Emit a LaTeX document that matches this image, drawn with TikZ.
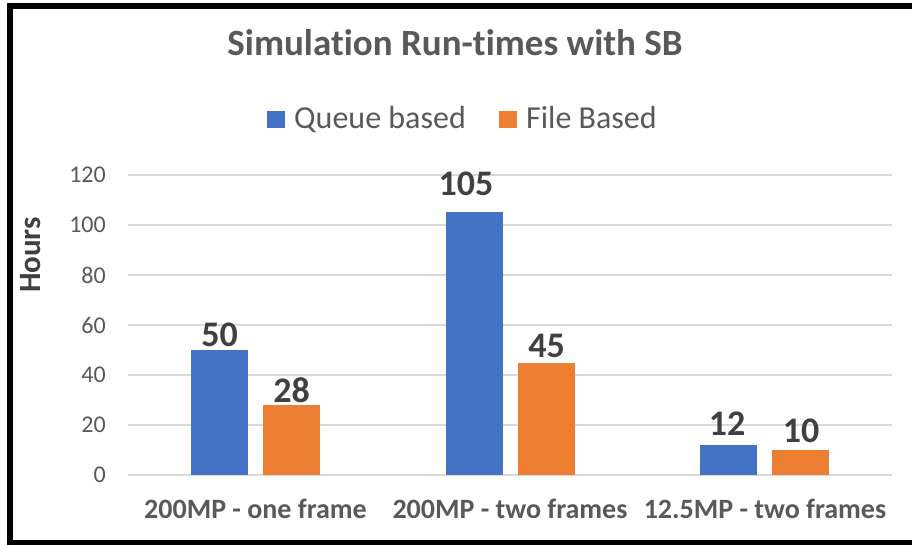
\documentclass[tikz,border=0pt]{standalone}
\usepackage{fontspec}
\setmainfont{Carlito}[RawFeature={-liga;-clig;-calt;-dlig}]
\definecolor{qblue}{HTML}{4472C4}
\definecolor{forange}{HTML}{ED7D31}
\definecolor{gridc}{HTML}{D9D9D9}
\definecolor{txtc}{HTML}{595959}
\definecolor{lblc}{HTML}{404040}
\begin{document}
\begin{tikzpicture}[x=1pt,y=-1pt,
  gridline/.style={draw=gridc,line width=1.5pt},
  ticklbl/.style={anchor=east,text=txtc,inner sep=0pt,font=\fontsize{24}{27}\selectfont},
  catlbl/.style={anchor=base,text=txtc,inner sep=0pt,font=\fontsize{28}{32}\selectfont\bfseries},
  vallbl/.style={anchor=base,text=lblc,inner sep=0pt,font=\fontsize{36}{40}\selectfont\bfseries},
  legtxt/.style={anchor=base west,text=txtc,inner sep=0pt,font=\fontsize{32}{36}\selectfont},
  bluebar/.style={fill=qblue},
  orangebar/.style={fill=forange}]
\useasboundingbox (0,0) rectangle (912,545);
\fill[white] (0,0) rectangle (912,545);
% frame
\draw[black,line width=6pt] (930,6) -- (9.5,6) -- (9.5,542.5) -- (930,542.5);
% title
\node[anchor=base,text=txtc,inner sep=0pt,font=\fontsize{37}{41}\selectfont\bfseries] (title) at (455,56) {Simulation Run-times with SB};
% legend
\fill[qblue] (267,111) rectangle (285,128);
\node[legtxt] (legq) at (294,129) {Queue based};
\fill[forange] (499,111) rectangle (517,128);
\node[legtxt] (legf) at (526,129) {File Based};
% grid and ticks
\foreach \v in {0,20,...,120}{
  \draw[gridline] (128,{475-2.5*\v}) -- (892,{475-2.5*\v});
  \node[ticklbl] (tick\v) at (106,{475-2.5*\v}) {\v};
}
% axis title
\node[rotate=90,text=lblc,inner sep=0pt,font=\fontsize{31}{35}\selectfont\bfseries] (yaxis) at (31,255) {Hours};
% bars
\newcommand{\mybar}[6]{% left x, value, style, name, label x, label baseline
  \path[#3] (#1,475) rectangle ({#1+57},{475-2.5*#2});
  \node[vallbl] (#4) at (#5,#6) {#2};
}
\mybar{191}{50}{bluebar}{v1q}{219.5}{346}
\mybar{263}{28}{orangebar}{v1f}{291.5}{402}
\mybar{446}{105}{bluebar}{v2q}{466}{196}
\mybar{518}{45}{orangebar}{v2f}{546.5}{357}
\mybar{700}{12}{bluebar}{v3q}{727}{435}
\mybar{772}{10}{orangebar}{v3f}{801}{442}
% category labels
\node[catlbl] (c1) at (255.5,518) {200MP - one frame};
\node[catlbl] (c2) at (510,518) {200MP - two frames};
\node[catlbl] (c3) at (765,518) {12.5MP - two frames};
\end{tikzpicture}
\end{document}
